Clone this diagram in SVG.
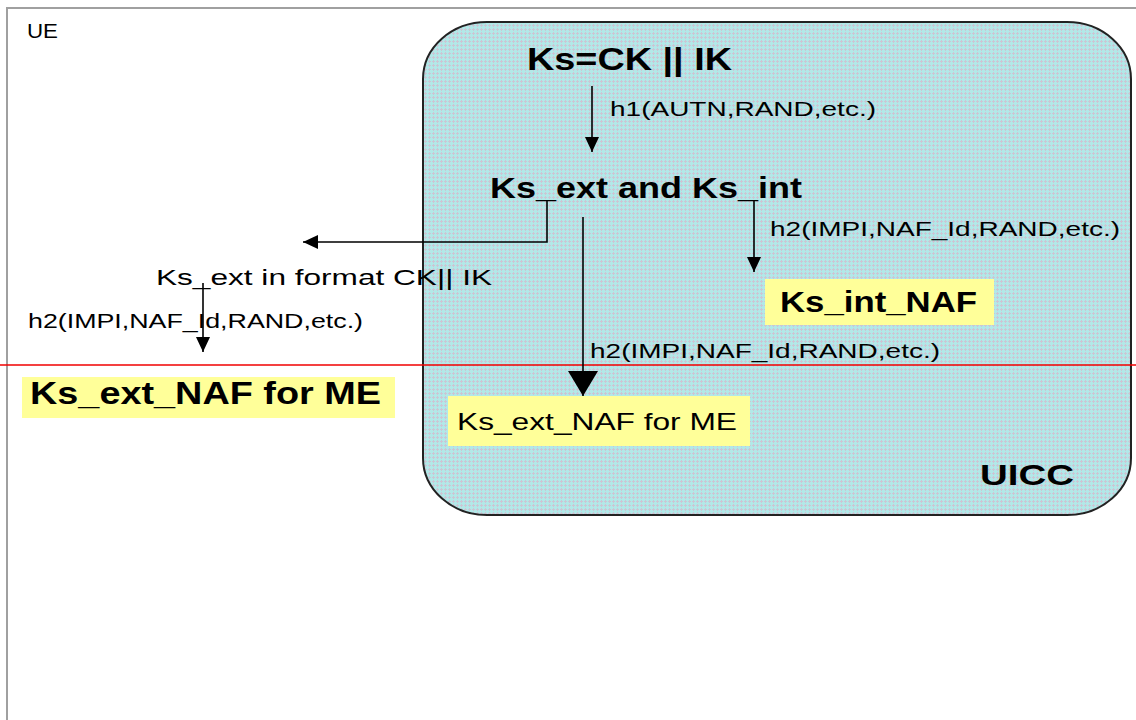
<svg xmlns="http://www.w3.org/2000/svg" width="1136" height="720" viewBox="0 0 1136 720">
<style>
text{font-family:"Liberation Sans",Arial,sans-serif;fill:#000}
.b{font-weight:bold}
.lbl{font-size:21px}
.hl{fill:#ffff99}
.ln{stroke:#000;stroke-width:1.6;fill:none}
</style>
<defs>
<pattern id="dots" width="4" height="4" patternUnits="userSpaceOnUse">
<rect width="4" height="4" fill="#b2e8e8"/>
<rect x="1" y="0" width="1" height="3" fill="#cbc6d4"/>
<rect x="0" y="1" width="3" height="1" fill="#cbc6d4"/>
</pattern>
<marker id="ah" markerUnits="userSpaceOnUse" markerWidth="16" markerHeight="14" refX="15" refY="7" orient="auto">
<path d="M0,0 L15,7 L0,14 Z" fill="#000"/>
</marker>
<marker id="ahL" markerUnits="userSpaceOnUse" markerWidth="26" markerHeight="32" refX="25" refY="15" orient="auto">
<path d="M0,0 L25,15 L0,30 Z" fill="#000"/>
</marker>
</defs>
<rect width="1136" height="720" fill="#fff"/>
<g id="ue">
<rect x="7" y="8" width="1150" height="730" fill="#fff" stroke="#a0a0a0" stroke-width="2"/>
<text x="27" y="38" font-size="21" textLength="31" lengthAdjust="spacingAndGlyphs">UE</text>
</g>
<g id="uicc">
<rect x="423" y="22" width="708" height="493" rx="64" ry="57" fill="url(#dots)" stroke="#222" stroke-width="2"/>
<text x="980" y="485" font-size="30" class="b" textLength="94" lengthAdjust="spacingAndGlyphs">UICC</text>
</g>
<g id="ks">
<text x="527" y="70" font-size="32" class="b" textLength="205" lengthAdjust="spacingAndGlyphs">Ks=CK || IK</text>
</g>
<g id="ks-ext-int">
<text x="490" y="198" font-size="30" class="b" textLength="312" lengthAdjust="spacingAndGlyphs">Ks_ext and Ks_int</text>
</g>
<g id="ks-int-naf">
<rect x="765" y="279" width="229" height="46" class="hl"/>
<text x="780" y="312" font-size="30" class="b" textLength="197" lengthAdjust="spacingAndGlyphs">Ks_int_NAF</text>
</g>
<g id="ks-ext-naf-uicc">
<rect x="448" y="396" width="302" height="50" class="hl"/>
<text x="457" y="430" font-size="24" textLength="280" lengthAdjust="spacingAndGlyphs">Ks_ext_NAF for ME</text>
</g>
<g id="ks-ext-format">
<text x="156" y="285" font-size="22" textLength="336" lengthAdjust="spacingAndGlyphs">Ks_ext in format CK|| IK</text>
</g>
<g id="ks-ext-naf-me">
<rect x="22" y="377" width="373" height="41" class="hl"/>
<text x="30" y="404" font-size="31" class="b" textLength="351" lengthAdjust="spacingAndGlyphs">Ks_ext_NAF for ME</text>
</g>
<g id="connectors">
<line x1="0" y1="365" x2="1136" y2="365" stroke="#f00000" stroke-width="1.6"/>
<line class="ln" x1="592" y1="86" x2="592" y2="152" marker-end="url(#ah)"/>
<polyline class="ln" points="547,200 547,242 303,242" marker-end="url(#ah)"/>
<line class="ln" x1="583" y1="217" x2="583" y2="396" marker-end="url(#ahL)"/>
<line class="ln" x1="754" y1="200" x2="754" y2="272" marker-end="url(#ah)"/>
<line class="ln" x1="203" y1="283" x2="203" y2="352" marker-end="url(#ah)"/>
<text x="610" y="116" class="lbl" textLength="266" lengthAdjust="spacingAndGlyphs">h1(AUTN,RAND,etc.)</text>
<text x="770" y="236" class="lbl" textLength="350" lengthAdjust="spacingAndGlyphs">h2(IMPI,NAF_Id,RAND,etc.)</text>
<text x="590" y="358" class="lbl" textLength="350" lengthAdjust="spacingAndGlyphs">h2(IMPI,NAF_Id,RAND,etc.)</text>
<text x="28" y="328" class="lbl" textLength="335" lengthAdjust="spacingAndGlyphs">h2(IMPI,NAF_Id,RAND,etc.)</text>
</g>
</svg>
